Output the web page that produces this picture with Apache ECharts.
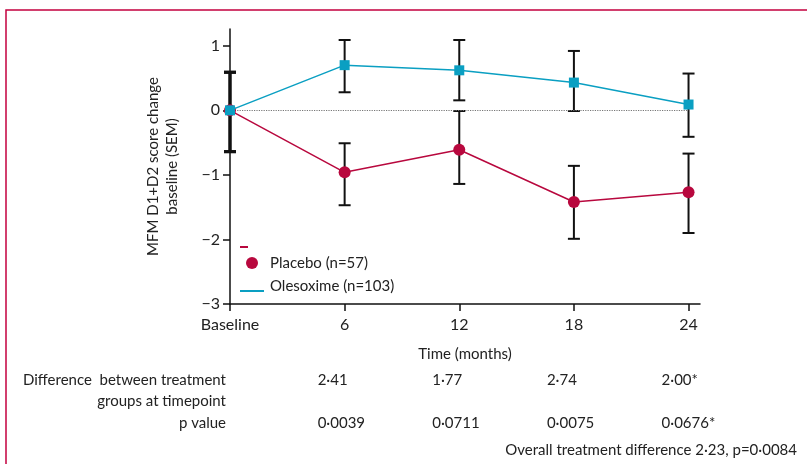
<!DOCTYPE html>
<html>
<head>
  <meta charset="UTF-8">
  <title>MFM D1+D2 change from baseline</title>
  <script src="https://cdn.jsdelivr.net/npm/echarts@6/dist/echarts.min.js"></script>
  <style>
    html, body { margin: 0; padding: 0; background: #fff; }
    #chart { width: 807px; height: 464px; }
  </style>
</head>
<body>
  <div id="chart"></div>
  <script>
    // time points (months), 0 = baseline
    const months = [0, 6, 12, 18, 24];
    const xTicks = [0, 6, 12, 18, 24];
    const yTicks = [-3, -2, -1, 0, 1];

    // mean change from baseline
    const olesoxime = [0, 0.70, 0.62, 0.43, 0.09];
    const placebo = [0, -0.96, -0.61, -1.42, -1.27];

    // SEM bars (low / high)
    const olesoximeLow = [-0.64, 0.28, 0.155, -0.01, -0.41];
    const olesoximeHigh = [0.59, 1.09, 1.09, 0.92, 0.57];
    const placeboLow = [-0.64, -1.47, -1.14, -1.99, -1.90];
    const placeboHigh = [0.59, -0.51, -0.01, -0.86, -0.67];

    // table under the chart (months 6..24)
    const diffLabels = ['2·41', '1·77', '2·74', '2·00*'];
    const pLabels = ['0·0039', '0·0711', '0·0075', '0·0676*'];

    const FONT = 'Lato';
    const RED = '#b8083e';
    const BLUE = '#0a9fc2';

    const chart = echarts.init(document.getElementById('chart'));

    function errData(low, high) {
      return months.map((m, i) => [m, low[i], high[i]]);
    }

    function errorBar(params, api) {
      const x = api.value(0);
      const lo = api.coord([x, api.value(1)]);
      const hi = api.coord([x, api.value(2)]);
      const cap = 6;
      const style = { stroke: '#111', lineWidth: x === 0 ? 3 : 2 };
      return {
        type: 'group',
        children: [
          { type: 'line', shape: { x1: lo[0], y1: lo[1], x2: hi[0], y2: hi[1] }, style },
          { type: 'line', shape: { x1: hi[0] - cap, y1: hi[1], x2: hi[0] + cap, y2: hi[1] }, style },
          { type: 'line', shape: { x1: lo[0] - cap, y1: lo[1], x2: lo[0] + cap, y2: lo[1] }, style }
        ]
      };
    }

    chart.setOption({
      animation: false,
      grid: { left: 230, right: 107, top: 29, bottom: 160 },
      xAxis: {
        type: 'value',
        min: 0,
        max: 24.6,
        name: 'Time (months)',
        nameLocation: 'middle',
        nameGap: 43,
        nameTextStyle: { fontFamily: FONT, fontSize: 15, color: '#222' },
        axisLine: { onZero: false, lineStyle: { color: '#111', width: 1.5 } },
        axisTick: { customValues: xTicks, length: 7, lineStyle: { color: '#111', width: 1.5 } },
        axisLabel: {
          customValues: xTicks,
          margin: 13,
          fontFamily: FONT, fontSize: 16, color: '#222',
          formatter: v => v === 0 ? 'Baseline' : String(v)
        },
        splitLine: { show: false }
      },
      yAxis: {
        type: 'value',
        min: -3,
        max: 1.26,
        name: 'MFM D1+D2 score change\nbaseline (SEM)',
        nameLocation: 'middle',
        nameRotate: 90,
        nameGap: 48,
        nameTextStyle: { fontFamily: FONT, fontSize: 15, color: '#222', lineHeight: 19 },
        axisLine: { show: true, onZero: false, lineStyle: { color: '#111', width: 1.5 } },
        axisTick: { show: true, customValues: yTicks, length: 7, lineStyle: { color: '#111', width: 1.5 } },
        axisLabel: {
          customValues: yTicks,
          margin: 10,
          fontFamily: FONT, fontSize: 16, color: '#222',
          formatter: v => v < 0 ? '\u2212' + Math.abs(v) : String(v)
        },
        splitLine: { show: false }
      },
      series: [
        {
          type: 'custom',
          name: 'Placebo SEM',
          renderItem: errorBar,
          data: errData(placeboLow, placeboHigh),
          encode: { x: 0, y: [1, 2] },
          z: 1
        },
        {
          type: 'custom',
          name: 'Olesoxime SEM',
          renderItem: errorBar,
          data: errData(olesoximeLow, olesoximeHigh),
          encode: { x: 0, y: [1, 2] },
          z: 1
        },
        {
          type: 'line',
          name: 'Placebo (n=57)',
          data: months.map((m, i) => [m, placebo[i]]),
          symbol: 'circle',
          symbolSize: 12,
          showAllSymbol: true,
          itemStyle: { color: RED },
          lineStyle: { color: RED, width: 1.5 },
          z: 3,
          markLine: {
            silent: true,
            symbol: 'none',
            label: { show: false },
            lineStyle: { color: '#777', type: 'dotted', width: 1.2 },
            data: [[{ coord: [0, 0] }, { coord: [24, 0] }]],
            z: 2
          }
        },
        {
          type: 'line',
          name: 'Olesoxime (n=103)',
          data: months.map((m, i) => [m, olesoxime[i]]),
          symbol: 'rect',
          symbolSize: 10,
          showAllSymbol: true,
          itemStyle: { color: BLUE },
          lineStyle: { color: BLUE, width: 1.5 },
          z: 4
        }
      ]
    });

    // legend, frame and the table under the axis
    const txt = (x, y, text, align, size) => ({
      type: 'text', x, y,
      style: { text, fill: '#222', font: (size || 15) + 'px ' + FONT, align: align || 'left', verticalAlign: 'middle' }
    });

    const graphics = [
      { type: 'polyline', shape: { points: [[6, 464], [6, 10], [807, 10]] }, style: { stroke: '#c4003f', lineWidth: 1.5, fill: null } },
      { type: 'rect', shape: { x: 240, y: 246, width: 8, height: 2 }, style: { fill: RED } },
      { type: 'circle', shape: { cx: 252, cy: 263, r: 6 }, style: { fill: RED } },
      txt(270, 263, 'Placebo (n=57)'),
      { type: 'rect', shape: { x: 240, y: 290, width: 24, height: 2 }, style: { fill: BLUE } },
      txt(270, 286, 'Olesoxime (n=103)'),
      txt(226, 380, 'Difference  between treatment', 'right'),
      txt(226, 401, 'groups at timepoint', 'right'),
      txt(226, 423, 'p value', 'right'),
      txt(797, 450, 'Overall treatment difference 2·23, p=0·0084', 'right')
    ];
    months.slice(1).forEach((m, i) => {
      const px = chart.convertToPixel({ xAxisIndex: 0 }, m) - 27;
      graphics.push(txt(px, 380, diffLabels[i]));
      graphics.push(txt(px, 423, pLabels[i]));
    });
    chart.setOption({ graphic: graphics });
  </script>
</body>
</html>
